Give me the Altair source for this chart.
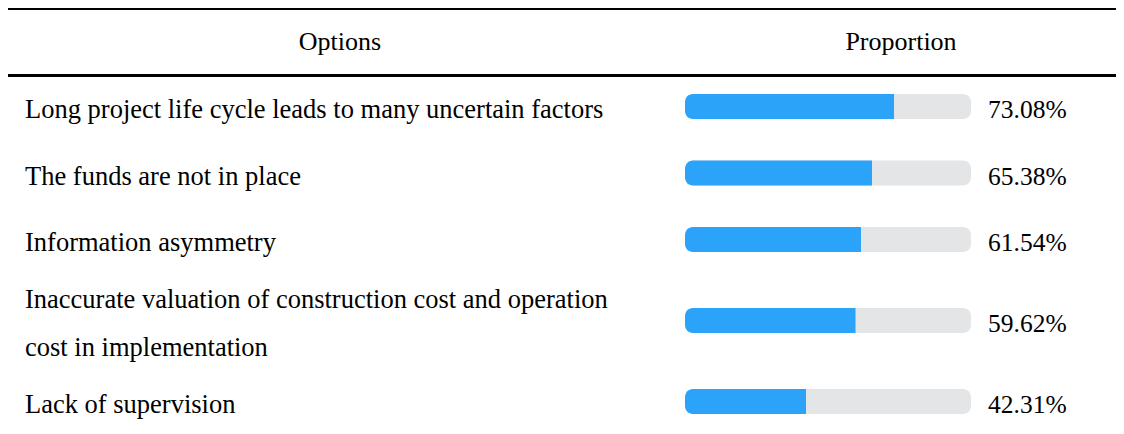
import altair as alt
import pandas as pd

# ---- data ----
options = [
    ["Long project life cycle leads to many uncertain factors"],
    ["The funds are not in place"],
    ["Information asymmetry"],
    ["Inaccurate valuation of construction cost and operation", "cost in implementation"],
    ["Lack of supervision"],
]
proportions = [0.7308, 0.6538, 0.6154, 0.5962, 0.4231]
headers = ["Options", "Proportion"]

# ---- layout (pixels inside the plot area) ----
W, H = 1108, 418
FONT = "Liberation Serif"
FS_LABEL = 26.5
FS_HEAD = 26
FS_PCT = 25.5
TABLE_TOP = 65.25        # below the header rule
ROW_1LINE = 66.5
ROW_EXTRA = 29.0         # extra height per additional text line
LINE_H = 48
BAR_H = 25
TRACK_X0, TRACK_X1 = 677, 963
LABEL_X = 17
PCT_X = 980
TEXT_DY = 3.5
HEADER_X = [332, 893]
HEADER_Y = 34

rows, lines = [], []
top = TABLE_TOP
for i, (lab, p) in enumerate(zip(options, proportions)):
    rh = ROW_1LINE + ROW_EXTRA * (len(lab) - 1)
    yc = top + rh / 2
    rows.append({"row": i, "value": p, "start": 0.0, "full": 1.0, "yc": yc,
                 "y0": yc - BAR_H / 2, "y1": yc + BAR_H / 2, "yt": yc + TEXT_DY})
    n = len(lab)
    for j, t in enumerate(lab):
        lines.append({"row": i, "text": t, "yt": yc + TEXT_DY + (j - (n - 1) / 2) * LINE_H})
    top += rh

df = pd.DataFrame(rows)
dl = pd.DataFrame(lines)

yscale = alt.Scale(domain=[0, H], range=[0, H])
xscale = alt.Scale(domain=[0, 1], range=[TRACK_X0, TRACK_X1])

track = alt.Chart(df).mark_rect(color="#e4e5e7", cornerRadius=8).encode(
    x=alt.X("start:Q", scale=xscale, axis=None),
    x2="full:Q",
    y=alt.Y("y0:Q", scale=yscale, axis=None),
    y2="y1:Q",
)
fill = alt.Chart(df).mark_rect(color="#2ba3f9", cornerRadiusTopLeft=8,
                               cornerRadiusBottomLeft=8).encode(
    x=alt.X("start:Q", scale=xscale, axis=None),
    x2="value:Q",
    y=alt.Y("y0:Q", scale=yscale, axis=None),
    y2="y1:Q",
)
pct = alt.Chart(df).mark_text(align="left", baseline="middle", font=FONT,
                              fontSize=FS_PCT, color="#000").encode(
    x=alt.value(PCT_X),
    y=alt.Y("yt:Q", scale=yscale, axis=None),
    text=alt.Text("value:Q", format=".2%"),
)
labels = alt.Chart(dl).mark_text(align="left", baseline="middle", font=FONT,
                                 fontSize=FS_LABEL, color="#000").encode(
    x=alt.value(LABEL_X),
    y=alt.Y("yt:Q", scale=yscale, axis=None),
    text="text:N",
)
hdr_layers = [
    alt.Chart(pd.DataFrame({"text": [hd]})).mark_text(
        align="center", baseline="middle", font=FONT, fontSize=FS_HEAD, color="#000"
    ).encode(x=alt.value(hx), y=alt.value(HEADER_Y), text="text:N")
    for hd, hx in zip(headers, HEADER_X)
]
rule_top = alt.Chart(df).mark_rule(color="#000", strokeWidth=3).encode(
    x=alt.value(0), x2=alt.value(W), y=alt.value(0.5))
rule_hdr = alt.Chart(df).mark_rule(color="#000", strokeWidth=2.5).encode(
    x=alt.value(0), x2=alt.value(W), y=alt.value(67.5))

chart = alt.layer(rule_top, rule_hdr, *hdr_layers, track, fill, pct, labels).properties(
    width=W, height=H, padding=0, autosize=alt.AutoSizeParams(type="none")
).configure_view(stroke=None)

chart.save("out.html", embed_options={"renderer": "svg", "actions": False})
